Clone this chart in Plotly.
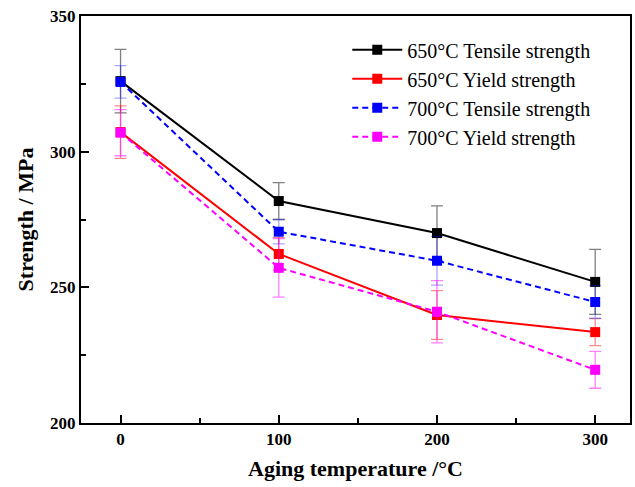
import plotly.graph_objects as go

temps = [0, 100, 200, 300]
t650_tensile = [326.0, 281.8, 270.0, 252.0]
t650_tensile_err = [11.7, 6.8, 10.0, 12.0]
t650_yield = [307.2, 262.3, 239.8, 233.5]
t650_yield_err = [9.7, 6.0, 9.0, 5.0]
t700_tensile = [325.7, 270.5, 259.8, 244.6]
t700_tensile_err = [6.0, 4.5, 9.0, 6.0]
t700_yield = [307.0, 257.2, 241.0, 219.6]
t700_yield_err = [8.5, 10.8, 11.5, 6.8]

names = ["650\u00b0C Tensile strength", "650\u00b0C Yield strength",
         "700\u00b0C Tensile strength", "700\u00b0C Yield strength"]

fig = go.Figure()
series = [
    (t650_tensile, t650_tensile_err, "#000000", "rgba(0,0,0,0.5)", "solid"),
    (t650_yield, t650_yield_err, "#ff0000", "rgba(255,0,0,0.45)", "solid"),
    (t700_tensile, t700_tensile_err, "#0000ff", "rgba(0,0,255,0.35)", "6px,4px"),
    (t700_yield, t700_yield_err, "#ff00ff", "rgba(255,0,255,0.5)", "6px,4px"),
]
for (vals, errs, col, ecol, dash), nm in zip(series, names):
    fig.add_trace(go.Scatter(
        x=temps, y=vals, name=nm, mode="lines+markers",
        line=dict(color=col, width=2, dash=dash),
        marker=dict(symbol="square", size=10, color=col),
        error_y=dict(type="data", array=errs, visible=True, color=ecol,
                     thickness=1.3, width=6),
    ))

axis_common = dict(
    showline=True, linecolor="black", linewidth=2, mirror=True,
    ticks="inside", ticklen=8, tickwidth=2, tickcolor="black",
    showgrid=False, zeroline=False,
    tickfont=dict(family="Liberation Serif", size=17, color="black", weight="bold"),
)

fig.update_layout(
    width=635, height=487,
    margin=dict(l=81, r=3, t=16, b=64),
    plot_bgcolor="white", paper_bgcolor="white",
    font=dict(family="Liberation Serif", color="black"),
    xaxis=dict(range=[-25, 322], tickvals=[0, 100, 200, 300],
               minor=dict(ticks="inside", ticklen=5, tickwidth=2, tickcolor="black", dtick=50, tick0=0),
               title=dict(text="Aging temperature /\u00b0C", font=dict(family="Liberation Serif", size=22, weight="bold"), standoff=12),
               **axis_common),
    yaxis=dict(range=[200, 350], tickvals=[200, 250, 300, 350],
               minor=dict(ticks="inside", ticklen=5, tickwidth=2, tickcolor="black", dtick=25, tick0=200),
               title=dict(text="Strength / MPa", font=dict(family="Liberation Serif", size=22, weight="bold"), standoff=10),
               **axis_common),
    legend=dict(x=0.485, y=0.965, xanchor="left", yanchor="top",
                bgcolor="rgba(0,0,0,0)", borderwidth=0,
                font=dict(family="Liberation Serif", size=20, color="black"),
                tracegroupgap=0, itemwidth=50),
    showlegend=True,
)
fig.write_html("out.html")
